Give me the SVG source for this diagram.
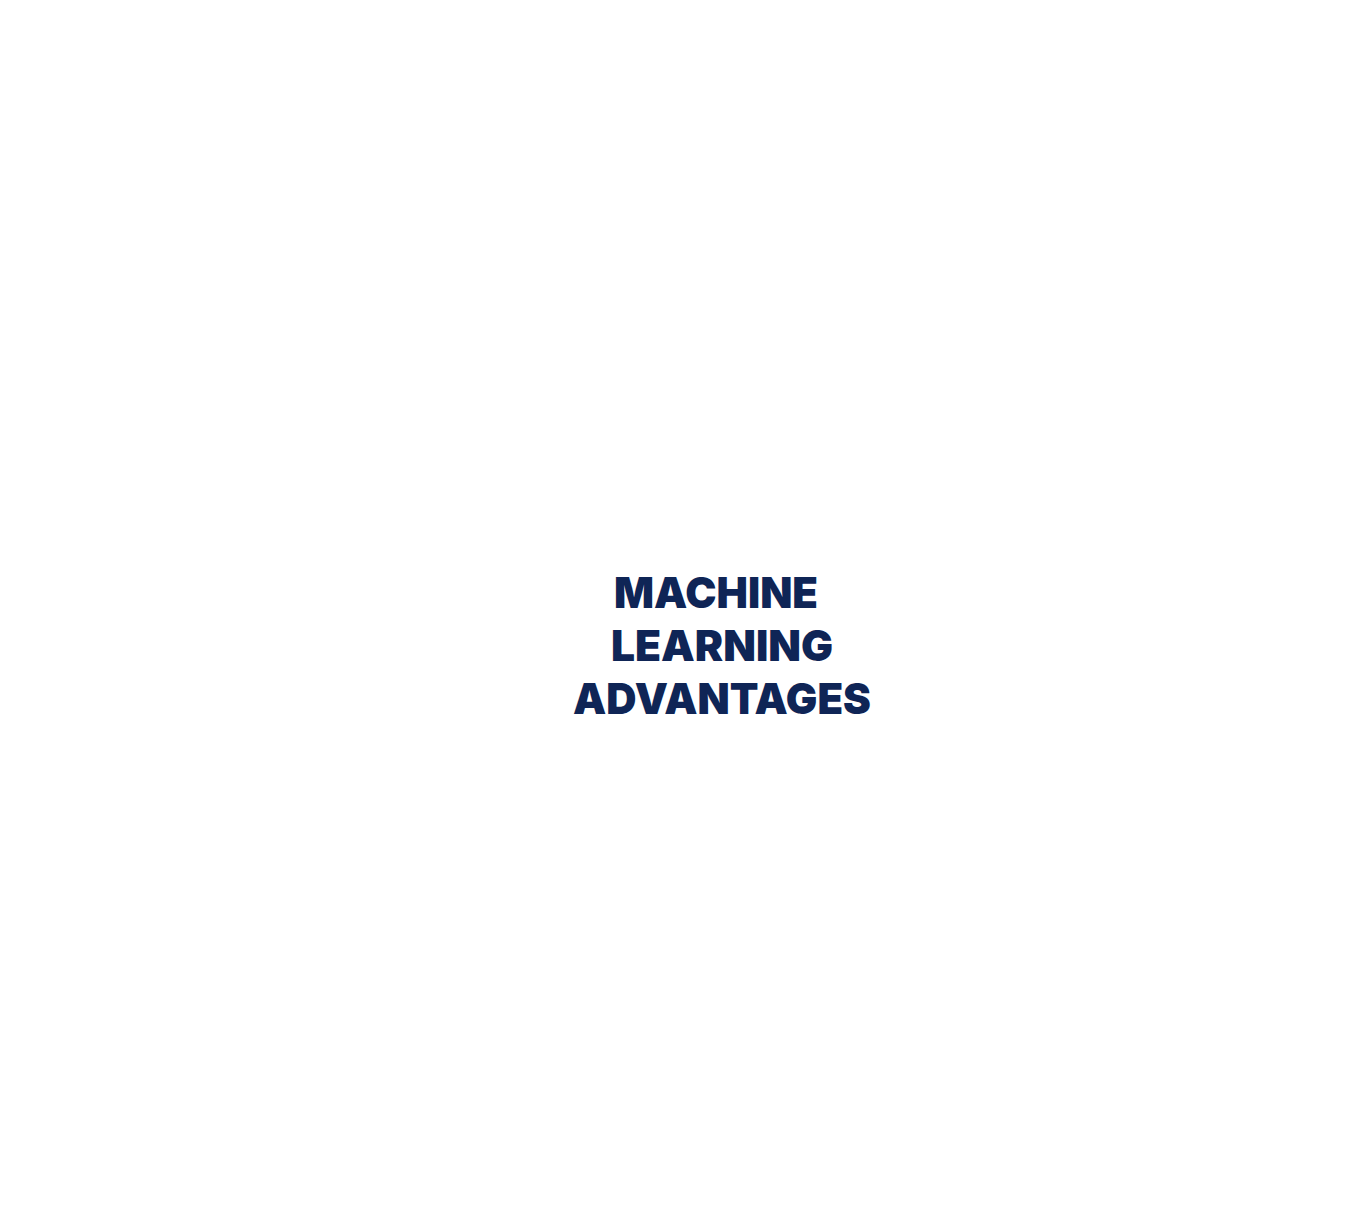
<svg xmlns="http://www.w3.org/2000/svg" width="1349" height="1213" viewBox="0 0 1349 1213">
<style>
.title{font-family:"Inter","Open Sans","Liberation Sans",sans-serif;font-weight:900;font-size:43px;fill:#0f2556;}
</style>
<rect width="1349" height="1213" fill="#ffffff"/>
<g id="title">
<text class="title" x="614" y="608" textLength="204" lengthAdjust="spacingAndGlyphs">MACHINE</text>
<text class="title" x="611" y="661" textLength="222" lengthAdjust="spacingAndGlyphs">LEARNING</text>
<text class="title" x="573" y="714" textLength="298" lengthAdjust="spacingAndGlyphs">ADVANTAGES</text>
</g>
<g id="connectors"></g>
</svg>
